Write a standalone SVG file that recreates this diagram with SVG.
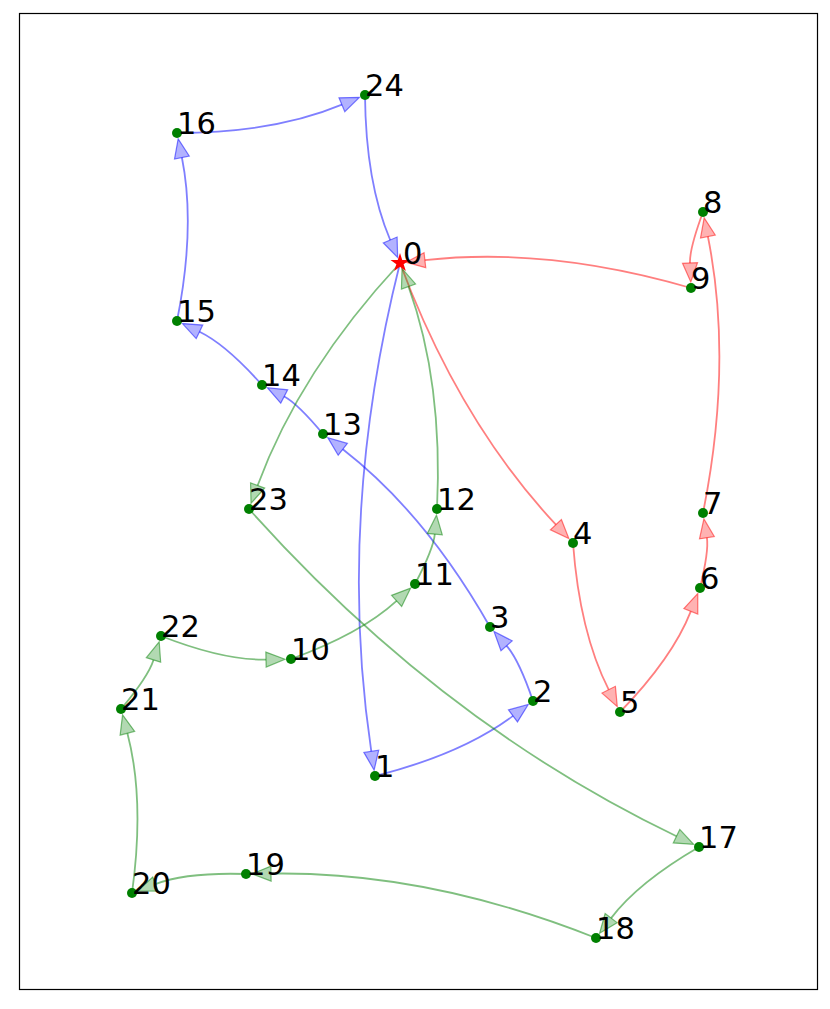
<svg xmlns="http://www.w3.org/2000/svg" width="830" height="1009" viewBox="0 0 830 1009">
<style>
.e{fill:none;stroke-width:1.8}
.b{stroke:#0000ff;stroke-opacity:0.5}
.r{stroke:#ff0000;stroke-opacity:0.5}
.g{stroke:#008000;stroke-opacity:0.5}
.n{fill:#008000}
.t{font-family:"DejaVu Sans",sans-serif;font-size:30.5px;fill:#000}
</style>
<defs>
<marker id="mb" markerUnits="userSpaceOnUse" markerWidth="30" markerHeight="30" orient="auto" overflow="visible" refX="0" refY="0"><polygon points="0,-7.5 19,0 0,7.5" fill="#0000ff" fill-opacity="0.3" stroke="#0000ff" stroke-opacity="0.5" stroke-width="1.2"/></marker>
<marker id="mr" markerUnits="userSpaceOnUse" markerWidth="30" markerHeight="30" orient="auto" overflow="visible" refX="0" refY="0"><polygon points="0,-7.5 19,0 0,7.5" fill="#ff0000" fill-opacity="0.3" stroke="#ff0000" stroke-opacity="0.5" stroke-width="1.2"/></marker>
<marker id="mg" markerUnits="userSpaceOnUse" markerWidth="30" markerHeight="30" orient="auto" overflow="visible" refX="0" refY="0"><polygon points="0,-7.5 19,0 0,7.5" fill="#008000" fill-opacity="0.3" stroke="#008000" stroke-opacity="0.5" stroke-width="1.2"/></marker>
</defs>
<rect x="0" y="0" width="830" height="1009" fill="#fff"/>
<rect x="19.5" y="13.5" width="798" height="976" fill="none" stroke="#000" stroke-width="1.2"/>
<g id="edges">
<path class="e b" marker-end="url(#mb)" d="M400,263 Q336.2,517 371.3,751.3"/>
<path class="e b" marker-end="url(#mb)" d="M375,776 Q461.5,754.3 513.0,715.9"/>
<path class="e b" marker-end="url(#mb)" d="M533,701 Q518.9,659.7 506.6,645.8"/>
<path class="e b" marker-end="url(#mb)" d="M490,627 Q425.8,513.8 342.8,449.3"/>
<path class="e b" marker-end="url(#mb)" d="M323,434 Q297.4,403.4 284.2,396.5"/>
<path class="e b" marker-end="url(#mb)" d="M262,385 Q225.9,344.5 199.5,331.8"/>
<path class="e b" marker-end="url(#mb)" d="M177,321 Q195.8,227 181.9,157.5"/>
<path class="e b" marker-end="url(#mb)" d="M177,133 Q274.8,132.8 341.9,104.7"/>
<path class="e b" marker-end="url(#mb)" d="M365,95 Q365.7,182.5 390.2,240"/>
<path class="e r" marker-end="url(#mr)" d="M400,263 Q458.5,420.3 555.9,524.7"/>
<path class="e r" marker-end="url(#mr)" d="M573,543 Q579.6,632.2 608.7,689.7"/>
<path class="e r" marker-end="url(#mr)" d="M620,712 Q672.4,658 690.8,611.3"/>
<path class="e r" marker-end="url(#mr)" d="M700,588 Q709,550.8 706.9,537.7"/>
<path class="e r" marker-end="url(#mr)" d="M703,513 Q733.1,362.5 707.9,236.5"/>
<path class="e r" marker-end="url(#mr)" d="M703,212 Q689.4,248.8 690,263"/>
<path class="e r" marker-end="url(#mr)" d="M691,288 Q548,246.4 424.9,260.2"/>
<path class="e g" marker-end="url(#mg)" d="M400,263 Q299.9,370.9 257.6,485.5"/>
<path class="e g" marker-end="url(#mg)" d="M249,509 Q440.2,723 676.5,836.2"/>
<path class="e g" marker-end="url(#mg)" d="M699,847 Q638.4,882.2 611.1,918.1"/>
<path class="e g" marker-end="url(#mg)" d="M596,938 Q427.4,871 271,873.6"/>
<path class="e g" marker-end="url(#mg)" d="M246,874 Q187.1,872.1 155.4,884.1"/>
<path class="e g" marker-end="url(#mg)" d="M132,893 Q144.9,799.9 127.4,733.2"/>
<path class="e g" marker-end="url(#mg)" d="M121,709 Q148.3,676.5 153.5,659.9"/>
<path class="e g" marker-end="url(#mg)" d="M161,636 Q223.7,660.5 266,659.6"/>
<path class="e g" marker-end="url(#mg)" d="M291,659 Q360.5,633.9 396.6,600.9"/>
<path class="e g" marker-end="url(#mg)" d="M415,584 Q433.5,548.7 434.8,534.1"/>
<path class="e g" marker-end="url(#mg)" d="M437,509 Q443.1,382.3 408.5,286.5"/>
</g>
<g id="node0"><polygon fill="#ff0000" points="400,253 402.24,259.91 409.51,259.91 403.63,264.18 405.88,271.09 400,266.82 394.12,271.09 396.37,264.18 390.49,259.91 397.76,259.91"/><text class="t" x="403" y="264">0</text></g>
<g id="node1"><circle class="n" cx="375" cy="776" r="5"/><text class="t" x="375" y="777">1</text></g>
<g id="node2"><circle class="n" cx="533" cy="701" r="5"/><text class="t" x="533" y="702">2</text></g>
<g id="node3"><circle class="n" cx="490" cy="627" r="5"/><text class="t" x="490" y="628">3</text></g>
<g id="node4"><circle class="n" cx="573" cy="543" r="5"/><text class="t" x="573" y="544">4</text></g>
<g id="node5"><circle class="n" cx="620" cy="712" r="5"/><text class="t" x="620" y="713">5</text></g>
<g id="node6"><circle class="n" cx="700" cy="588" r="5"/><text class="t" x="700" y="589">6</text></g>
<g id="node7"><circle class="n" cx="703" cy="513" r="5"/><text class="t" x="703" y="514">7</text></g>
<g id="node8"><circle class="n" cx="703" cy="212" r="5"/><text class="t" x="703" y="213">8</text></g>
<g id="node9"><circle class="n" cx="691" cy="288" r="5"/><text class="t" x="691" y="289">9</text></g>
<g id="node10"><circle class="n" cx="291" cy="659" r="5"/><text class="t" x="291" y="660">10</text></g>
<g id="node11"><circle class="n" cx="415" cy="584" r="5"/><text class="t" x="415" y="585">11</text></g>
<g id="node12"><circle class="n" cx="437" cy="509" r="5"/><text class="t" x="437" y="510">12</text></g>
<g id="node13"><circle class="n" cx="323" cy="434" r="5"/><text class="t" x="323" y="435">13</text></g>
<g id="node14"><circle class="n" cx="262" cy="385" r="5"/><text class="t" x="262" y="386">14</text></g>
<g id="node15"><circle class="n" cx="177" cy="321" r="5"/><text class="t" x="177" y="322">15</text></g>
<g id="node16"><circle class="n" cx="177" cy="133" r="5"/><text class="t" x="177" y="134">16</text></g>
<g id="node17"><circle class="n" cx="699" cy="847" r="5"/><text class="t" x="699" y="848">17</text></g>
<g id="node18"><circle class="n" cx="596" cy="938" r="5"/><text class="t" x="596" y="939">18</text></g>
<g id="node19"><circle class="n" cx="246" cy="874" r="5"/><text class="t" x="246" y="875">19</text></g>
<g id="node20"><circle class="n" cx="132" cy="893" r="5"/><text class="t" x="132" y="894">20</text></g>
<g id="node21"><circle class="n" cx="121" cy="709" r="5"/><text class="t" x="121" y="710">21</text></g>
<g id="node22"><circle class="n" cx="161" cy="636" r="5"/><text class="t" x="161" y="637">22</text></g>
<g id="node23"><circle class="n" cx="249" cy="509" r="5"/><text class="t" x="249" y="510">23</text></g>
<g id="node24"><circle class="n" cx="365" cy="95" r="5"/><text class="t" x="365" y="96">24</text></g>
</svg>
